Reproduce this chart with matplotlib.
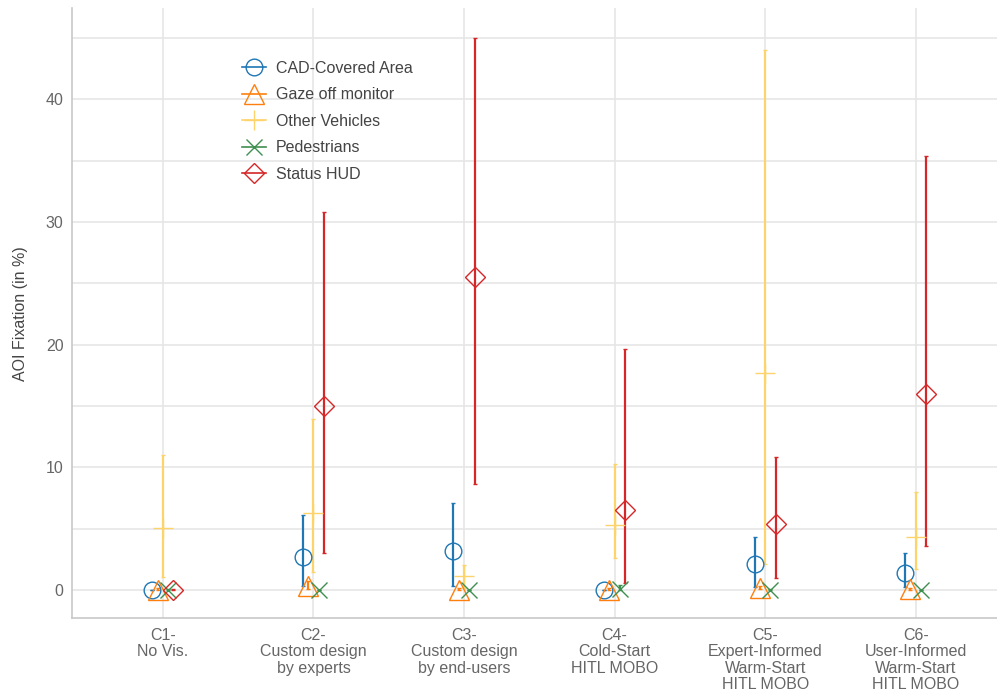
import numpy as np
import matplotlib.pyplot as plt
from matplotlib.lines import Line2D

plt.rcParams['font.family'] = ['Liberation Sans', 'DejaVu Sans']

# Conditions
condicoes = ['C1-\nNo Vis.', 'C2-\nCustom design\nby experts', 'C3-\nCustom design\nby end-users',
             'C4-\nCold-Start\nHITL MOBO', 'C5-\nExpert-Informed\nWarm-Start\nHITL MOBO',
             'C6-\nUser-Informed\nWarm-Start\nHITL MOBO']

# Mean AOI fixation (%) and interval bounds per area of interest
cad_media = [0.0, 2.7, 3.2, 0.0, 2.1, 1.4]
cad_inf = [0.0, 0.35, 0.35, 0.0, 0.25, 0.25]
cad_sup = [0.0, 6.1, 7.1, 0.0, 4.35, 3.05]

gaze_media = [0.0, 0.35, 0.0, 0.0, 0.2, 0.1]
gaze_inf = [0.0, 0.05, 0.0, 0.0, 0.05, 0.0]
gaze_sup = [0.15, 0.7, 0.15, 0.15, 0.35, 0.2]

veic_media = [5.05, 6.3, 1.15, 5.3, 17.7, 4.35]
veic_inf = [1.1, 1.45, 0.2, 2.6, 2.1, 1.7]
veic_sup = [11.0, 13.9, 2.0, 10.3, 44.0, 8.0]

ped_media = [0.0, 0.0, 0.0, 0.1, 0.0, 0.0]
ped_inf = [0.0, 0.0, 0.0, 0.0, 0.0, 0.0]
ped_sup = [0.1, 0.0, 0.0, 0.4, 0.1, 0.0]

hud_media = [0.0, 15.0, 25.5, 6.5, 5.4, 16.0]
hud_inf = [0.0, 3.0, 8.6, 0.6, 1.0, 3.6]
hud_sup = [0.1, 30.8, 45.0, 19.6, 10.8, 35.4]

series = [
    ('CAD-Covered Area', cad_media, cad_inf, cad_sup, '#1f77b4', 'o', 12),
    ('Gaze off monitor', gaze_media, gaze_inf, gaze_sup, '#ff7f0e', '^', 14),
    ('Other Vehicles', veic_media, veic_inf, veic_sup, '#fdd36c', '+', 15),
    ('Pedestrians', ped_media, ped_inf, ped_sup, '#3f8f4f', 'x', 11),
    ('Status HUD', hud_media, hud_inf, hud_sup, '#d62728', 'D', 10),
]

fig = plt.figure(figsize=(9.97, 6.94), dpi=100)
ax = fig.add_axes([0.0722, 0.1095, 0.9278, 0.8785])

x = np.arange(len(condicoes))
passo = 0.035
handles = []
for i, (nome, media, inf, sup, cor, marc, tam) in enumerate(series):
    media = np.array(media)
    erro = [media - np.array(inf), np.array(sup) - media]
    ax.errorbar(x + (i - 2) * passo, media, yerr=erro, fmt=marc, color=cor,
                markersize=tam, markerfacecolor='none',
                markeredgewidth=1.0, elinewidth=1.6, capsize=1.2, capthick=2.5,
                zorder=3)
    # legend key: marker with a horizontal line through it
    handles.append(Line2D([], [], color=cor, marker=marc, markersize=tam,
                          markerfacecolor='none', markeredgewidth=1.0,
                          linewidth=1.2, label=nome))

ax.set_xlim(-0.604, 5.54)
ax.set_ylim(-2.28, 47.4)
ax.set_yticks([0, 10, 20, 30, 40])
ax.set_yticks([5, 15, 25, 35, 45], minor=True)
ax.set_xticks(x)
ax.set_xticklabels(condicoes, fontsize=11.5, color='#666666', linespacing=1.12)
ax.tick_params(axis='both', length=0, labelsize=11.5, labelcolor='#666666')
ax.tick_params(axis='y', which='minor', length=0)
ax.tick_params(axis='x', pad=7)
ax.tick_params(axis='y', pad=6)

ax.grid(True, which='major', color='#e6e6e6', linewidth=1.2, zorder=0)
ax.grid(True, which='minor', axis='y', color='#e6e6e6', linewidth=1.2, zorder=0)
ax.set_axisbelow(True)

for lado in ['top', 'right']:
    ax.spines[lado].set_visible(False)
for lado in ['left', 'bottom']:
    ax.spines[lado].set_color('#c8c8c8')
    ax.spines[lado].set_linewidth(1.2)

ax.set_ylabel('AOI Fixation (in %)', fontsize=11.5, color='#444444', labelpad=13)

leg = ax.legend(handles=handles, loc='upper left', bbox_to_anchor=(0.184, 0.914),
                frameon=False, fontsize=11.5, handlelength=1.5, labelspacing=0.72,
                handletextpad=0.63, borderpad=0, borderaxespad=0)
for t in leg.get_texts():
    t.set_color('#444444')

fig.savefig('out.png', dpi=100)
